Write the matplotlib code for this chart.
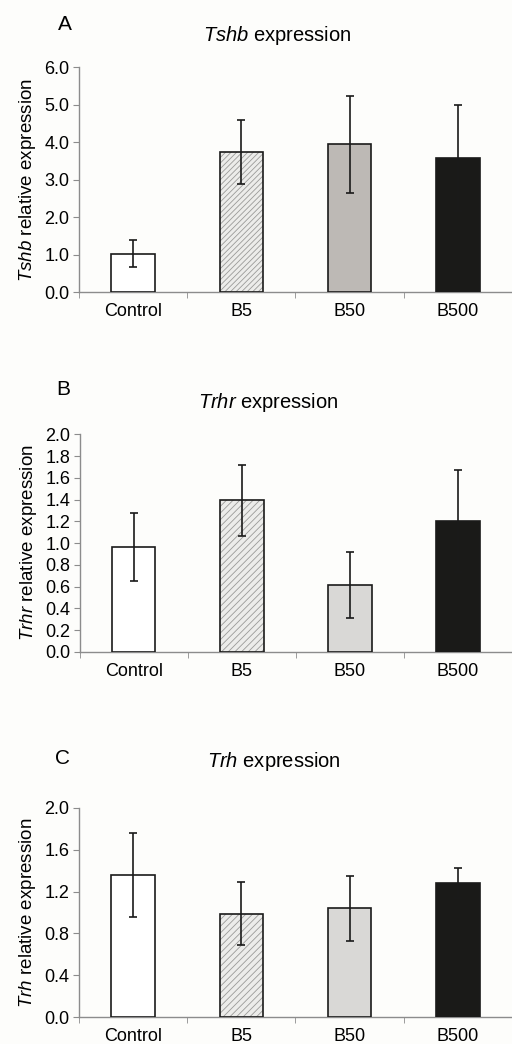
import numpy as np
import matplotlib
matplotlib.use('Agg')
import matplotlib.pyplot as plt

plt.rcParams['font.family'] = ['Liberation Sans', 'DejaVu Sans']
plt.rcParams['mathtext.fontset'] = 'custom'
plt.rcParams['mathtext.rm'] = 'Liberation Sans'
plt.rcParams['mathtext.it'] = 'Liberation Sans:italic'
plt.rcParams['hatch.linewidth'] = 0.6

groups = ['Control', 'B5', 'B50', 'B500']

tshb_mean = [1.02, 3.74, 3.94, 3.57]
tshb_err = [0.36, 0.85, 1.29, 1.42]

trhr_mean = [0.965, 1.394, 0.613, 1.204]
trhr_err = [0.315, 0.328, 0.305, 0.47]

trh_mean = [1.355, 0.99, 1.04, 1.284]
trh_err = [0.40, 0.30, 0.31, 0.145]

# letter, gene, means, errors, yticks, ymax, axes rect, B50 colour, hatch,
# title (x, y) and letter (x, y) in axes fractions
panels = [
    ('A', 'Tshb', tshb_mean, tshb_err, np.arange(0, 6.01, 1.0), 6.0,
     [0.154, 0.7203, 0.846, 0.2155], '#bdb9b5', '//////', (0.457, 1.138), (-0.032, 1.187)),
    ('B', 'Trhr', trhr_mean, trhr_err, np.arange(0, 2.01, 0.2), 2.0,
     [0.156, 0.3755, 0.844, 0.2085], '#d9d8d6', '/////', (0.435, 1.148), (-0.039, 1.208)),
    ('C', 'Trh', trh_mean, trh_err, np.arange(0, 2.01, 0.4), 2.0,
     [0.154, 0.0256, 0.846, 0.2007], '#d9d8d6', '/////', (0.45, 1.223), (-0.037, 1.233)),
]

fig = plt.figure(figsize=(5.12, 10.44), dpi=100)
fig.patch.set_facecolor('#fdfdfb')

spine_col = '#8c8c8c'
x = np.arange(len(groups))
w = 0.40

for letter, gene, mean, err, yt, ymax, pos, b50col, hatch, tpos, lpos in panels:
    ax = fig.add_axes(pos)
    ax.set_facecolor('#fdfdfb')
    fills = ['white', '#ececea', b50col, '#1a1a18']
    for i in range(len(groups)):
        if i == 1:
            ax.bar(x[i], mean[i], w, color='#ececea', edgecolor='#9a9a98',
                   hatch=hatch, linewidth=0, zorder=2)
            ax.bar(x[i], mean[i], w, color='none', edgecolor='#1a1a1a',
                   linewidth=1.2, zorder=3)
        else:
            ax.bar(x[i], mean[i], w, color=fills[i], edgecolor='#1a1a1a',
                   linewidth=1.2, zorder=3)
    ax.errorbar(x, mean, yerr=err, fmt='none', ecolor='#1a1a1a',
                elinewidth=1.2, capsize=3.2, capthick=1.2, zorder=4)

    ax.set_xlim(-0.5, 3.5)
    ax.set_ylim(0, ymax)
    ax.set_yticks(yt)
    ax.set_yticklabels(['%.1f' % v for v in yt], fontsize=13)
    ax.set_xticks(x)
    ax.set_xticklabels(groups, fontsize=13)
    ax.set_xticks(np.arange(-0.5, 3.6, 1.0), minor=True)
    ax.tick_params(axis='x', which='major', length=0, pad=8)
    ax.tick_params(axis='x', which='minor', length=4, color=spine_col, direction='out')
    ax.tick_params(axis='y', length=4, color=spine_col, direction='out', pad=3)

    for s in ['top', 'right']:
        ax.spines[s].set_visible(False)
    for s in ['left', 'bottom']:
        ax.spines[s].set_color(spine_col)
        ax.spines[s].set_linewidth(1.0)

    ax.set_ylabel('$\\mathit{%s}$ relative expression' % gene, fontsize=13.5, labelpad=4)
    ax.text(tpos[0], tpos[1], '$\\mathit{%s}$ expression' % gene, transform=ax.transAxes,
            fontsize=14.5, ha='center', va='center')
    ax.text(lpos[0], lpos[1], letter, transform=ax.transAxes, fontsize=15,
            ha='center', va='center')

fig.savefig('out.png', dpi=100, facecolor=fig.get_facecolor())
